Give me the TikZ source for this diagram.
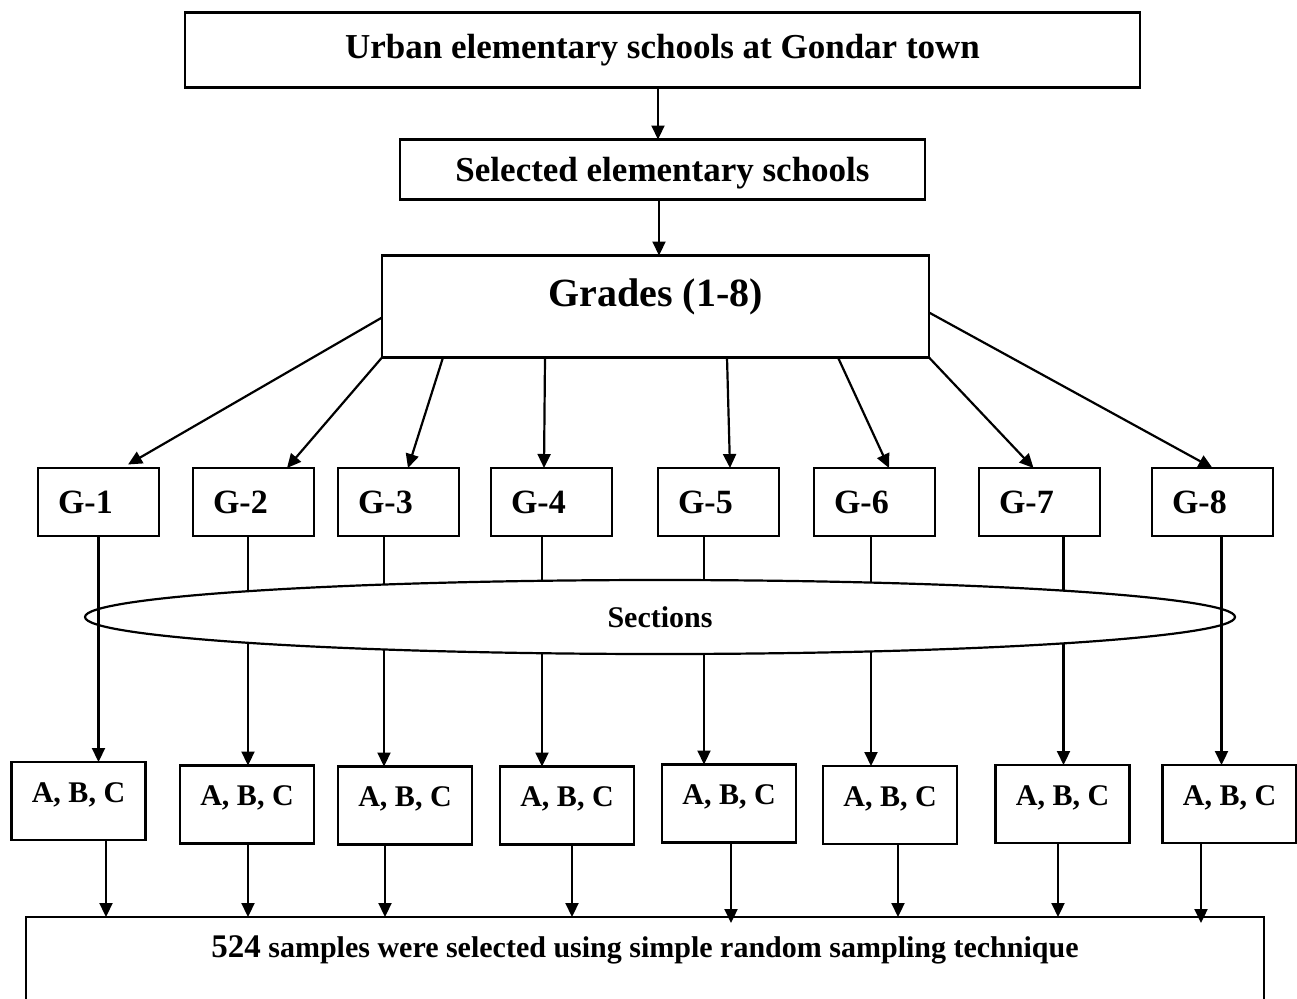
\documentclass[tikz,border=0pt]{standalone}
\usepackage{fontspec}
\setmainfont{Liberation Serif}
\usetikzlibrary{positioning, arrows.meta, shapes.geometric}

\tikzset{
  box/.style={draw, line width=2.2pt, outer sep=0pt},
  topbox/.style={box, minimum width=955pt, minimum height=75pt,
    text height=23pt, text depth=6pt, font=\bfseries\fontsize{35}{42}\selectfont},
  selbox/.style={box, minimum width=525pt, minimum height=60pt,
    text height=23pt, text depth=0pt, font=\bfseries\fontsize{35}{42}\selectfont},
  gradesbox/.style={box, minimum width=547pt, minimum height=102pt,
    text height=26pt, text depth=26pt, font=\bfseries\fontsize{40}{48}\selectfont},
  gbox/.style={box, minimum width=121pt, minimum height=68pt, inner xsep=20pt,
    text width=81pt, align=left, text height=22.5pt, text depth=0pt,
    font=\bfseries\fontsize{34}{40}\selectfont},
  abcbox/.style={box, minimum width=134pt, minimum height=78pt,
    text height=20pt, text depth=18pt, font=\bfseries\fontsize{30}{36}\selectfont},
  samplebox/.style={box, minimum width=1238pt, minimum height=120pt,
    text height=20pt, text depth=60pt, font=\bfseries\fontsize{30}{36}\selectfont},
  sections/.style={ellipse, draw, fill=white, line width=2.2pt, outer sep=0pt,
    minimum width=1150pt, minimum height=74pt,
    text height=20pt, text depth=0pt, font=\bfseries\fontsize{30}{36}\selectfont},
  arrow/.style={-{Triangle[length=14pt,width=13pt]}, line width=2.2pt}
}

\begin{document}
\begin{tikzpicture}[x=1pt, y=-1pt]
  \useasboundingbox (0,0) rectangle (1297,998);
  \clip (0,0) rectangle (1297,998);

  \node [topbox] (urban) at (662.5,50) {Urban elementary schools at Gondar town};
  \node [selbox, below=52pt of urban] (selected) {Selected elementary schools};
  \node [gradesbox, below=56pt of selected, xshift=-7pt] (grades) {Grades (1-8)};

  % grade boxes
  \node [gbox] (g1) at (98.5,502) {G-1};
  \node [gbox, right=34pt of g1] (g2) {G-2};
  \node [gbox, right=24pt of g2] (g3) {G-3};
  \node [gbox, right=32pt of g3] (g4) {G-4};
  \node [gbox, right=46pt of g4] (g5) {G-5};
  \node [gbox, right=35pt of g5] (g6) {G-6};
  \node [gbox, right=44pt of g6] (g7) {G-7};
  \node [gbox, right=52pt of g7] (g8) {G-8};

  % section boxes
  \node [abcbox] (abc1) at (78.5,801) {A, B, C};
  \node [abcbox] (abc2) at (247,804.5) {A, B, C};
  \node [abcbox] (abc3) at (405,805.5) {A, B, C};
  \node [abcbox] (abc4) at (567,805.5) {A, B, C};
  \node [abcbox] (abc5) at (729,803.5) {A, B, C};
  \node [abcbox] (abc6) at (890,805) {A, B, C};
  \node [abcbox] (abc7) at (1062.5,804) {A, B, C};
  \node [abcbox] (abc8) at (1229.5,804) {A, B, C};

  \node [samplebox, anchor=north] (sample) at (645,917)
    {{\fontsize{33}{40}\selectfont 524} samples were selected using simple random sampling technique};

  \draw [arrow] ([xshift=-4.5pt]urban.south) -- ([xshift=-4.5pt]urban.south |- selected.north);
  \draw [arrow] ([xshift=-3.5pt]selected.south) -- ([xshift=-3.5pt]selected.south |- grades.north);

  % grades to each grade
  \draw [arrow, shorten >=7pt] ([yshift=-11pt]grades.west) -- ([xshift=23.5pt]g1.north);
  \draw [arrow] (grades.south west) -- ([xshift=33.5pt]g2.north);
  \draw [arrow] ([xshift=61pt]grades.south west) -- ([xshift=9.5pt]g3.north);
  \draw [arrow] ([xshift=163pt]grades.south west) -- ([xshift=-7.5pt]g4.north);
  \draw [arrow] ([xshift=-202pt]grades.south east) -- ([xshift=11.5pt]g5.north);
  \draw [arrow] ([xshift=-91pt]grades.south east) -- ([xshift=14.5pt]g6.north);
  \draw [arrow] (grades.south east) -- ([xshift=-6pt]g7.north);
  \draw [arrow] ([yshift=-6pt]grades.east) -- (g8.north);

  % grades to sections, under the ellipse
  \draw [arrow] ([xshift=-5.5pt]g2.south) -- ([xshift=-5.5pt]g2.south |- abc2.north);
  \draw [arrow] ([xshift=-14.5pt]g3.south) -- ([xshift=-14.5pt]g3.south |- abc3.north);
  \draw [arrow] ([xshift=-9.5pt]g4.south) -- ([xshift=-9.5pt]g4.south |- abc4.north);
  \draw [arrow] ([xshift=-14.5pt]g5.south) -- ([xshift=-14.5pt]g5.south |- abc5.north);
  \draw [arrow] ([xshift=-3.5pt]g6.south) -- ([xshift=-3.5pt]g6.south |- abc6.north);
  \draw [arrow] ([xshift=24pt]g7.south) -- ([xshift=24pt]g7.south |- abc7.north);

  \node [sections] (sec) at (660,617) {Sections};

  \draw [arrow] (g1.south) -- (g1.south |- abc1.north);
  \draw [arrow] ([xshift=9pt]g8.south) -- ([xshift=9pt]g8.south |- abc8.north);

  % sections to the sample
  \draw [arrow] ([xshift=27.5pt]abc1.south) -- ([xshift=27.5pt]abc1.south |- sample.north);
  \draw [arrow] ([xshift=1pt]abc2.south) -- ([xshift=1pt]abc2.south |- sample.north);
  \draw [arrow] ([xshift=-20pt]abc3.south) -- ([xshift=-20pt]abc3.south |- sample.north);
  \draw [arrow] ([xshift=5pt]abc4.south) -- ([xshift=5pt]abc4.south |- sample.north);
  \draw [arrow, shorten >=-6pt] ([xshift=2pt]abc5.south) -- ([xshift=2pt]abc5.south |- sample.north);
  \draw [arrow] ([xshift=8pt]abc6.south) -- ([xshift=8pt]abc6.south |- sample.north);
  \draw [arrow] ([xshift=-4.5pt]abc7.south) -- ([xshift=-4.5pt]abc7.south |- sample.north);
  \draw [arrow, shorten >=-6pt] ([xshift=-28.5pt]abc8.south) -- ([xshift=-28.5pt]abc8.south |- sample.north);
\end{tikzpicture}
\end{document}
